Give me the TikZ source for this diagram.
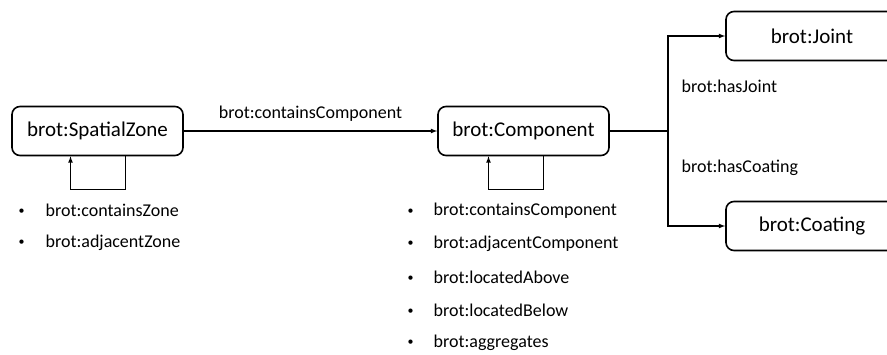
\documentclass[tikz,border=0pt]{standalone}
\usepackage{fontspec}
\setmainfont{Carlito}
\usetikzlibrary{positioning,arrows}

\newcommand{\smallbul}{\raisebox{1.8pt}{\fontsize{12}{12}\selectfont\textbullet}}

\begin{document}
\begin{tikzpicture}[x=1pt,y=-1pt,->,>=latex,line width=1.2pt,
  class node/.style={draw,line width=1.6pt,rounded corners=8pt,minimum width=171pt,
    minimum height=49pt,font=\fontsize{21}{24}\selectfont},
  prop/.style={font=\fontsize{18}{21}\selectfont,anchor=west,inner sep=0pt}]
   \clip (0,0) rectangle (887,354);
   \node[class node] (sz) at (97.5,131) {brot:SpatialZone};
   \node[class node] (comp) at (523.5,131) {brot:Component};
   \node[class node,minimum width=172pt] (joint) at (812,36) {brot:Joint};
   \node[class node,minimum width=172pt] (coat) at (812,226) {brot:Coating};
   \coordinate (br) at (668,131);
   % relations between the classes
   \draw (sz) -- node[midway,above=9pt,prop,anchor=south] (cc) {brot:containsComponent} (comp);
   \draw[-] (comp) -- (br);
   \draw (br) |- (joint);
   \draw (br) |- (coat);
   \node[prop] (hj) at (681,86) {brot:hasJoint};
   \node[prop] (hc) at (681,168) {brot:hasCoating};
   % self loops
   \draw ([xshift=28pt]sz.south) -- ++(0,33) -| ([xshift=-27pt]sz.south);
   \draw ([xshift=20pt]comp.south) -- ++(0,33) -| ([xshift=-35pt]comp.south);
   % property lists
   \foreach \txt [count=\i] in {brot:containsZone,brot:adjacentZone}
     \node[prop] (zp\i) at (18,177+33*\i) {\makebox[27pt][l]{\smallbul}\txt};
   \foreach \txt [count=\i] in {brot:containsComponent,brot:adjacentComponent,
       brot:locatedAbove,brot:locatedBelow,brot:aggregates}
     \node[prop] (cp\i) at (407,178+33*\i) {\makebox[26pt][l]{\smallbul}\txt};
\end{tikzpicture}
\end{document}
